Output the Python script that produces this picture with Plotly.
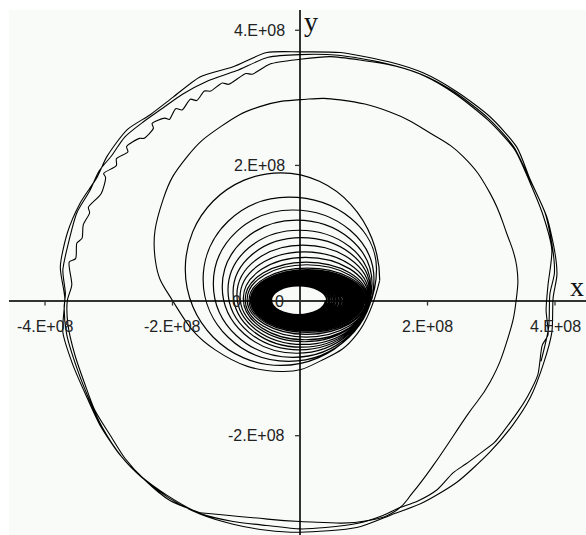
import plotly.graph_objects as go

SCALE = 1e8  # all coordinates below are in units of 1e8

# Tightly wound inner revolutions (right, bottom, left, top extents per turn)
dense_right = [0.40, 0.42, 0.45, 0.47, 0.50, 0.53, 0.55, 0.58, 0.60, 0.63, 0.65, 0.68,
               0.70, 0.72, 0.74, 0.76, 0.78, 0.80, 0.82, 0.84, 0.86, 0.87, 0.89, 0.90,
               0.92, 0.93, 0.95, 0.96, 0.97, 0.99, 1.00, 1.01]
dense_bottom = [-0.21, -0.22, -0.225, -0.23, -0.24, -0.25, -0.255, -0.26, -0.27, -0.28,
                -0.285, -0.29, -0.30, -0.31, -0.315, -0.32, -0.33, -0.34, -0.345, -0.35,
                -0.36, -0.37, -0.375, -0.38, -0.39, -0.40, -0.405, -0.41, -0.42, -0.43,
                -0.44, -0.45]
dense_left = [-0.45, -0.46, -0.47, -0.48, -0.49, -0.50, -0.51, -0.52, -0.53, -0.54,
              -0.55, -0.56, -0.57, -0.58, -0.59, -0.60, -0.61, -0.62, -0.63, -0.64,
              -0.65, -0.66, -0.67, -0.68, -0.69, -0.70, -0.71, -0.72, -0.73, -0.745,
              -0.76, -0.775]
dense_top = [0.22, 0.23, 0.235, 0.24, 0.25, 0.255, 0.26, 0.27, 0.275, 0.28, 0.29, 0.295,
             0.30, 0.31, 0.315, 0.32, 0.33, 0.335, 0.34, 0.35, 0.355, 0.36, 0.37, 0.375,
             0.38, 0.39, 0.40, 0.41, 0.42, 0.43, 0.44, 0.455]

# Wider revolutions as the spiral opens up
outer_right = [1.03, 1.04, 1.05, 1.06, 1.07, 1.08, 1.09, 1.10, 1.11, 1.13, 1.16, 1.20]
outer_bottom = [-0.47, -0.50, -0.54, -0.58, -0.61, -0.65, -0.69, -0.73, -0.78, -0.84, -0.90, -0.96]
outer_left = [-0.80, -0.83, -0.86, -0.89, -0.94, -0.99, -1.05, -1.13, -1.22, -1.36, -1.52, -1.80]
outer_top = [0.48, 0.53, 0.57, 0.64, 0.72, 0.82, 0.93, 1.04, 1.19, 1.34, 1.53, 1.89]

# Escape turn: last small loop, large loop, then the fall onto the outer orbit
escape_x = [1.25, 0.89, 0.35, -0.30, -1.33, -2.00, -2.27, -2.15, -1.77, -1.25, -0.63, 0.10,
            0.63, 1.41, 2.04, 2.56, 2.98, 3.24, 3.40, 3.39, 3.26, 2.98, 2.62, 2.09, 1.77,
            1.52, 1.05, 0.00, -0.78, -1.57]
escape_y = [0.30, -0.50, -0.88, -1.05, -0.73, 0.00, 0.60, 1.49, 2.13, 2.57, 2.87, 2.98,
            2.97, 2.79, 2.48, 2.13, 1.59, 1.00, 0.50, 0.00, -0.56, -1.21, -1.70, -2.44, -2.84,
            -3.10, -3.26, -3.27, -3.21, -3.14]

# Outer orbit, first pass (ragged, slightly inside)
orbit_a_x = [-1.57, -2.04, -2.43, -2.75, -2.98, -3.22, -3.37, -3.53, -3.64, -3.65, -3.58,
             -3.62, -3.52, -3.50, -3.42, -3.40, -3.30, -3.32, -3.12, -3.05, -3.08, -2.88,
             -2.88, -2.70, -2.72, -2.52, -2.45, -2.30, -2.32, -2.12, -2.05, -1.95, -1.85,
             -1.72, -1.62, -1.50, -1.40, -1.22, -1.12, -0.85, -0.75, -0.47, 0.00, 0.47,
             0.94, 1.49, 1.96, 2.43, 2.95, 3.37, 3.61, 3.81, 3.95, 3.89, 3.86, 3.89, 3.80,
             3.73, 3.58, 3.45, 3.30, 3.18, 3.05, 2.80, 2.60, 2.40, 2.15, 1.84, 1.55, 1.30,
             0.89, 0.40, 0.00, -0.52, -1.05, -1.57]
orbit_a_y = [-3.14, -2.96, -2.66, -2.33, -1.99, -1.62, -1.25, -0.81, -0.36, 0.00, 0.23,
             0.57, 0.62, 0.85, 0.92, 1.12, 1.30, 1.38, 1.58, 1.82, 1.88, 2.00,
             2.10, 2.20, 2.28, 2.40, 2.40, 2.55, 2.62, 2.70, 2.68, 2.84, 2.82,
             2.98, 2.96, 3.10, 3.10, 3.22, 3.20, 3.36, 3.35, 3.50, 3.57, 3.61,
             3.56, 3.47, 3.32, 3.06, 2.67, 2.23, 1.74, 1.27, 0.75, 0.23, -0.14, -0.51, -0.66,
             -1.10, -1.40, -1.60, -1.80, -1.95, -2.10, -2.28, -2.42, -2.55, -2.80, -2.97, -3.07, -3.18,
             -3.30, -3.36, -3.38, -3.33, -3.27, -3.15]

# Outer orbit, second pass (outermost trace)
orbit_b_x = [-2.09, -2.51, -2.82, -3.14, -3.34, -3.56, -3.72, -3.69, -3.76, -3.65, -3.45,
             -3.18, -3.03, -2.71, -2.35, -1.99, -1.57, -1.05, -0.52, 0.00, 0.63, 1.41, 1.93,
             2.46, 2.98, 3.40, 3.61, 3.87, 4.00, 4.03, 3.97, 3.95, 3.81, 3.61, 3.34, 2.98,
             2.46, 1.93, 1.41, 0.89, 0.00, -0.52, -1.05, -1.57]
orbit_b_y = [-2.88, -2.59, -2.29, -1.84, -1.44, -0.96, -0.47, 0.04, 0.50, 1.00, 1.44,
             1.83, 2.13, 2.53, 2.75, 3.01, 3.31, 3.46, 3.67, 3.68, 3.67, 3.53, 3.37,
             3.09, 2.72, 2.27, 1.79, 1.24, 0.70, 0.38, 0.04, -0.47, -0.96, -1.44, -1.84, -2.24,
             -2.69, -2.99, -3.18, -3.36, -3.43, -3.40, -3.31, -3.16]

# Outer orbit, final partial pass
orbit_c_x = [-2.06, -2.48, -2.80, -3.10, -3.30, -3.50, -3.66, -3.70, -3.68, -3.72, -3.62,
             -3.50, -3.30, -3.15, -2.95, -2.75, -2.45, -2.15, -1.85, -1.45, -1.00, -0.50,
             0.00, 0.60, 1.30, 1.90, 2.40, 2.95, 3.35, 3.60, 3.85, 3.97, 3.99, 3.92, 3.90, 3.78]
orbit_c_y = [-2.92, -2.62, -2.31, -1.88, -1.48, -1.00, -0.50, -0.10, 0.10, 0.45, 0.90,
             1.30, 1.62, 1.92, 2.15, 2.42, 2.65, 2.85, 3.05, 3.25, 3.40, 3.60,
             3.64, 3.63, 3.52, 3.35, 3.10, 2.70, 2.28, 1.80, 1.28, 0.72, 0.40, 0.10, -0.40, -0.90]

# Axis tick values and labels
x_ticks = [-4, -2, 2, 4]
x_tick_text = ["-4.E+08", "-2.E+08", "2.E+08", "4.E+08"]
y_ticks = [-2, 2, 4]
y_tick_text = ["-2.E+08", "2.E+08", "4.E+08"]

# Spiral drawn as SVG paths of quarter-ellipse Bezier arcs between the
# extreme points of each turn (right -> bottom -> left -> top -> next right).
KAPPA = 0.5523


def turn_extremes(rs, bs, ls, ts):
    pts = []  # (x, y, tangent is vertical?)
    for r, b, l, t in zip(rs, bs, ls, ts):
        cx = (l + r) / 2
        cy = (t + b) / 2
        pts += [(r, cy, True), (cx, b, False), (l, cy, True), (cx, t, False)]
    return pts


def fmt(x, y):
    return f"{x * SCALE:.0f},{y * SCALE:.0f}"


def arc_path(pts):
    path = "M " + fmt(pts[0][0], pts[0][1])
    for (px, py, pv), (qx, qy, _) in zip(pts[:-1], pts[1:]):
        if pv:
            c1 = (px, py + KAPPA * (qy - py))
            c2 = (qx + KAPPA * (px - qx), qy)
        else:
            c1 = (px + KAPPA * (qx - px), py)
            c2 = (qx, qy + KAPPA * (py - qy))
        path += " C " + fmt(*c1) + " " + fmt(*c2) + " " + fmt(qx, qy)
    return path


dense_pts = turn_extremes(dense_right, dense_bottom, dense_left, dense_top)
outer_pts = turn_extremes(outer_right, outer_bottom, outer_left, outer_top)
outer_pts.append((escape_x[0], escape_y[0], True))
dense_path = arc_path(dense_pts + outer_pts[:1])
outer_path = arc_path(outer_pts)

ox = orbit_a_x + orbit_b_x + orbit_c_x
oy = orbit_a_y + orbit_b_y + orbit_c_y

fig = go.Figure()
fig.add_trace(go.Scatter(
    x=[v * SCALE for v in escape_x], y=[v * SCALE for v in escape_y], mode="lines",
    line=dict(color="black", width=1.1, shape="spline", smoothing=1.3),
    hoverinfo="skip", showlegend=False))
fig.add_trace(go.Scatter(
    x=[v * SCALE for v in ox], y=[v * SCALE for v in oy], mode="lines",
    line=dict(color="black", width=1.1, shape="spline", smoothing=0.7),
    hoverinfo="skip", showlegend=False))

shapes = [
    dict(type="path", xref="x", yref="y", path=dense_path, layer="above",
         line=dict(color="black", width=1.7)),
    dict(type="path", xref="x", yref="y", path=outer_path, layer="above",
         line=dict(color="black", width=1.2)),
]
annotations = []
label_font = dict(family="Liberation Sans, Arial, sans-serif", size=16, color="#222222")
for v, txt in zip(x_ticks, x_tick_text):
    shapes.append(dict(type="line", xref="x", yref="y", x0=v * SCALE, x1=v * SCALE,
                       ysizemode="pixel", yanchor=0, y0=0, y1=-5,
                       line=dict(color="#333333", width=1.3)))
    annotations.append(dict(x=v * SCALE, y=0, xref="x", yref="y", text=txt,
                            showarrow=False, xanchor="center", yanchor="middle",
                            yshift=-26, font=label_font))
for v, txt in zip(y_ticks, y_tick_text):
    shapes.append(dict(type="line", xref="x", yref="y", y0=v * SCALE, y1=v * SCALE,
                       xsizemode="pixel", xanchor=0, x0=0, x1=-5,
                       line=dict(color="#333333", width=1.3)))
    annotations.append(dict(x=0, y=v * SCALE, xref="x", yref="y", text=txt,
                            showarrow=False, xanchor="right", yanchor="middle",
                            xshift=-13, font=label_font))
# origin labels
annotations.append(dict(x=0, y=0, xref="x", yref="y", text="0", showarrow=False,
                        xanchor="right", yanchor="middle", xshift=-14, yshift=-1,
                        font=label_font))
annotations.append(dict(x=0, y=0, xref="x", yref="y", text="0", showarrow=False,
                        xanchor="center", yanchor="middle", xshift=-64, yshift=-1,
                        font=label_font))
# axis names
title_font = dict(family="Liberation Serif, Times New Roman, serif", size=28, color="#111111")
annotations.append(dict(x=0, y=1, xref="x", yref="paper", text="y", showarrow=False,
                        xanchor="left", yanchor="top", xshift=2, yshift=6, font=title_font))
annotations.append(dict(x=1, y=0, xref="paper", yref="y", text="x", showarrow=False,
                        xanchor="right", yanchor="middle", xshift=0, yshift=14,
                        font=title_font))

fig.update_layout(
    width=586, height=535,
    margin=dict(l=9, r=0, t=10, b=0),
    paper_bgcolor="white", plot_bgcolor="#f8fbf8",
    shapes=shapes, annotations=annotations,
    xaxis=dict(range=[-4.565 * SCALE, 4.486 * SCALE], showgrid=False, showticklabels=False,
               ticks="", zeroline=True, zerolinecolor="#333333", zerolinewidth=1.5,
               showline=False),
    yaxis=dict(range=[-3.47 * SCALE, 4.30 * SCALE], showgrid=False, showticklabels=False,
               ticks="", zeroline=True, zerolinecolor="#333333", zerolinewidth=1.5,
               showline=False),
)

fig.write_html("out.html")
